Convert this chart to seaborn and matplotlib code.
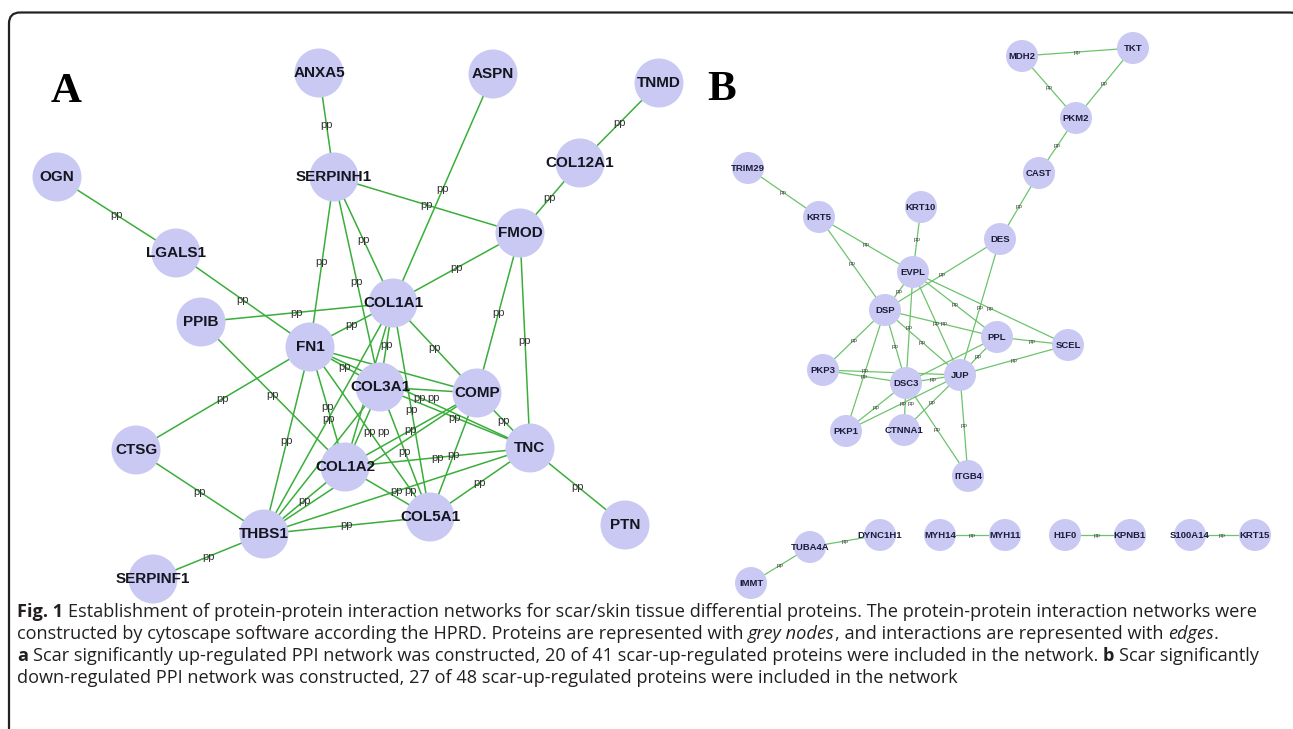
import pandas as pd
import matplotlib
matplotlib.use("Agg")
import matplotlib.pyplot as plt
import seaborn as sns
from matplotlib.patches import FancyBboxPatch

sns.set_theme(style="white")
plt.rcParams['font.family'] = ['Liberation Sans', 'DejaVu Sans']

# ---- panel A: scar up-regulated network (positions, px) ----
a_names = ["ANXA5", "ASPN", "TNMD", "OGN", "SERPINH1", "COL12A1", "FMOD", "LGALS1",
           "COL1A1", "PPIB", "FN1", "COL3A1", "COMP", "CTSG", "TNC", "COL1A2",
           "COL5A1", "PTN", "THBS1", "SERPINF1"]
a_x = [319, 493, 659, 57, 334, 580, 520, 176, 393, 201, 310, 380, 477, 136, 530, 345, 430, 625, 264, 153]
a_y = [73, 74, 83, 177, 177, 163, 233, 253, 303, 322, 347, 387, 393, 450, 448, 467, 517, 525, 534, 579]
a_edges = [("ANXA5", "SERPINH1"), ("ASPN", "COL1A1"), ("TNMD", "COL12A1"), ("COL12A1", "FMOD"),
           ("OGN", "LGALS1"), ("LGALS1", "FN1"), ("SERPINH1", "FMOD"), ("SERPINH1", "FN1"),
           ("SERPINH1", "COL1A1"), ("SERPINH1", "COL3A1"), ("FMOD", "COL1A1"), ("FMOD", "COMP"),
           ("FMOD", "TNC"), ("PPIB", "COL1A1"), ("PPIB", "COL1A2"), ("FN1", "COL1A1"),
           ("FN1", "CTSG"), ("CTSG", "THBS1"), ("THBS1", "SERPINF1"), ("TNC", "PTN"),
           ("COL1A1", "COMP"), ("COL1A1", "COL3A1"), ("COL1A1", "COL5A1"), ("COL1A1", "COL1A2"),
           ("COL1A1", "THBS1"), ("FN1", "COL3A1"), ("FN1", "COMP"), ("FN1", "TNC"),
           ("FN1", "COL1A2"), ("FN1", "COL5A1"), ("FN1", "THBS1"), ("COL3A1", "COMP"),
           ("COL3A1", "TNC"), ("COL3A1", "COL1A2"), ("COL3A1", "COL5A1"), ("COL3A1", "THBS1"),
           ("COMP", "TNC"), ("COMP", "COL1A2"), ("COMP", "COL5A1"), ("COMP", "THBS1"),
           ("TNC", "COL1A2"), ("TNC", "COL5A1"), ("TNC", "THBS1"), ("COL1A2", "COL5A1"),
           ("COL1A2", "THBS1"), ("COL5A1", "THBS1")]

# ---- panel B: scar down-regulated network ----
b_names = ["MDH2", "TKT", "PKM2", "CAST", "TRIM29", "KRT5", "KRT10", "DES", "EVPL", "DSP",
           "PPL", "SCEL", "PKP3", "DSC3", "JUP", "PKP1", "CTNNA1", "ITGB4", "TUBA4A",
           "DYNC1H1", "IMMT", "MYH14", "MYH11", "H1F0", "KPNB1", "S100A14", "KRT15"]
b_x = [1022, 1133, 1076, 1039, 748, 819, 921, 1000, 913, 885, 997, 1068, 823, 906, 960,
       846, 904, 968, 810, 880, 751, 940, 1005, 1065, 1130, 1190, 1255]
b_y = [56, 48, 118, 173, 168, 217, 207, 239, 272, 310, 337, 345, 370, 383, 375, 431, 430,
       476, 547, 535, 583, 535, 535, 535, 535, 535, 535]
b_edges = [("MDH2", "TKT"), ("MDH2", "PKM2"), ("TKT", "PKM2"), ("PKM2", "CAST"), ("CAST", "DES"),
           ("TRIM29", "KRT5"), ("KRT5", "EVPL"), ("KRT5", "DSP"), ("KRT10", "EVPL"),
           ("DES", "DSP"), ("DES", "JUP"), ("EVPL", "DSP"), ("EVPL", "DSC3"), ("EVPL", "JUP"),
           ("EVPL", "PPL"), ("EVPL", "SCEL"), ("DSP", "PPL"), ("DSP", "JUP"), ("DSP", "DSC3"),
           ("DSP", "PKP3"), ("DSP", "PKP1"), ("PPL", "SCEL"), ("PPL", "JUP"), ("PPL", "DSC3"),
           ("SCEL", "JUP"), ("PKP3", "DSC3"), ("PKP3", "JUP"), ("DSC3", "JUP"), ("DSC3", "PKP1"),
           ("JUP", "PKP1"), ("JUP", "CTNNA1"), ("DSC3", "CTNNA1"), ("DSC3", "ITGB4"),
           ("JUP", "ITGB4"), ("TUBA4A", "DYNC1H1"), ("TUBA4A", "IMMT"), ("MYH14", "MYH11"),
           ("H1F0", "KPNB1"), ("S100A14", "KRT15")]
edge_label = "pp"

# caption pieces: (text, style, space after)
caption = [
    [("Fig. 1", "b", True), ("Establishment of protein-protein interaction networks for scar/skin tissue differential proteins. The protein-protein interaction networks were", "n", False)],
    [("constructed by cytoscape software according the HPRD. Proteins are represented with", "n", True), ("grey nodes", "i", False), (", and interactions are represented with", "n", True), ("edges", "i", False), (".", "n", False)],
    [("a", "b", True), ("Scar significantly up-regulated PPI network was constructed, 20 of 41 scar-up-regulated proteins were included in the network.", "n", True), ("b", "b", True), ("Scar significantly", "n", False)],
    [("down-regulated PPI network was constructed, 27 of 48 scar-up-regulated proteins were included in the network", "n", False)],
]

W, H = 1293, 729
fig = plt.figure(figsize=(W / 100, H / 100), dpi=100)
ax = fig.add_axes([0, 0, 1, 1])
ax.set_xlim(0, W)
ax.set_ylim(H, 0)


def draw_network(names, xs, ys, edges, node_px, edge_col, edge_lw, lab_size, lab_col, pp_size, pp_col):
    pos = dict(zip(names, zip(xs, ys)))
    rows = []
    for i, (a, b) in enumerate(edges):
        for n in (a, b):
            rows.append({"edge": i, "x": pos[n][0], "y": pos[n][1]})
    df_e = pd.DataFrame(rows)
    sns.lineplot(data=df_e, x="x", y="y", units="edge", estimator=None, sort=False,
                 color=edge_col, lw=edge_lw, ax=ax, legend=False)
    r = node_px / 2
    pw, ph = pp_size * 1.7, pp_size * 1.2   # rough label box, px
    placed = []
    for a, b in edges:
        mx = (pos[a][0] + pos[b][0]) / 2
        my = (pos[a][1] + pos[b][1]) / 2
        # labels that sit under another node are hidden by it in the figure
        if any((mx - x) ** 2 + (my - y) ** 2 < (r + 4) ** 2 for x, y in zip(xs, ys)):
            continue
        # labels that collide run on side by side ("pppp")
        for px, py in placed:
            if abs(mx - px) < pw and abs(my - py) < ph:
                mx = px + pw
                my = py
        placed.append((mx, my))
        ax.text(mx, my, edge_label, fontsize=pp_size, color=pp_col, ha="center", va="center", zorder=2.5)
    nodes = pd.DataFrame({"name": names, "x": xs, "y": ys})
    node_pt = node_px * 72 / 100
    sns.scatterplot(data=nodes, x="x", y="y", s=node_pt ** 2, color="#c9c9f4", edgecolor="none",
                    linewidth=0, ax=ax, zorder=3, legend=False)
    for n, x, y in zip(names, xs, ys):
        ax.text(x, y, n, fontsize=lab_size, fontweight="bold", color=lab_col,
                ha="center", va="center", zorder=4)


draw_network(a_names, a_x, a_y, a_edges, 49, "#3aae3a", 1.1, 11, "#151520", 8, "#333333")
draw_network(b_names, b_x, b_y, b_edges, 32, "#6cc46c", 0.9, 6.8, "#1c1c3a", 4.5, "#444444")

# panel letters
ax.text(51, 102, "A", fontsize=31, fontweight="bold", family=["Liberation Serif", "DejaVu Serif"],
        color="black", va="baseline", ha="left", zorder=5)
ax.text(707, 100, "B", fontsize=31, fontweight="bold", family=["Liberation Serif", "DejaVu Serif"],
        color="black", va="baseline", ha="left", zorder=5)

# rounded frame (right side runs just past the image edge)
frame = FancyBboxPatch((9, 12.5), 1292, 760, boxstyle="round,pad=0,rounding_size=11",
                       fill=False, ec="#222222", lw=1.6, clip_on=False, zorder=6)
ax.add_patch(frame)

ax.set_xlim(0, W)
ax.set_ylim(H, 0)
ax.axis("off")

# caption, with mixed bold / italic runs
fig.canvas.draw()
renderer = fig.canvas.get_renderer()
cap_family = ["Open Sans", "DejaVu Sans"]


def style_kw(st):
    return dict(fontweight="bold" if st == "b" else "normal",
                fontstyle="italic" if st == "i" else "normal")


def text_w(s, size, st):
    t = fig.text(0, 0, s, fontsize=size, family=cap_family, **style_kw(st))
    w = t.get_window_extent(renderer).width
    t.remove()
    return w


def space_w(size, st):
    return text_w("x x", size, st) - text_w("xx", size, st)


def line_width(pieces, size):
    total = 0
    for s, st, sp in pieces:
        total += text_w(s, size, st)
        if sp:
            total += space_w(size, st)
    return total


base = 11
cap_size = base * 1250 / line_width(caption[0], base)
y0 = 617
for k, pieces in enumerate(caption):
    x = 17
    y = y0 + k * 22
    for s, st, sp in pieces:
        t = fig.text(x / W, 1 - y / H, s, fontsize=cap_size, family=cap_family, color="#231f20",
                     va="baseline", ha="left", **style_kw(st))
        x += t.get_window_extent(renderer).width
        if sp:
            x += space_w(cap_size, st)

fig.savefig("out.png", dpi=100)
